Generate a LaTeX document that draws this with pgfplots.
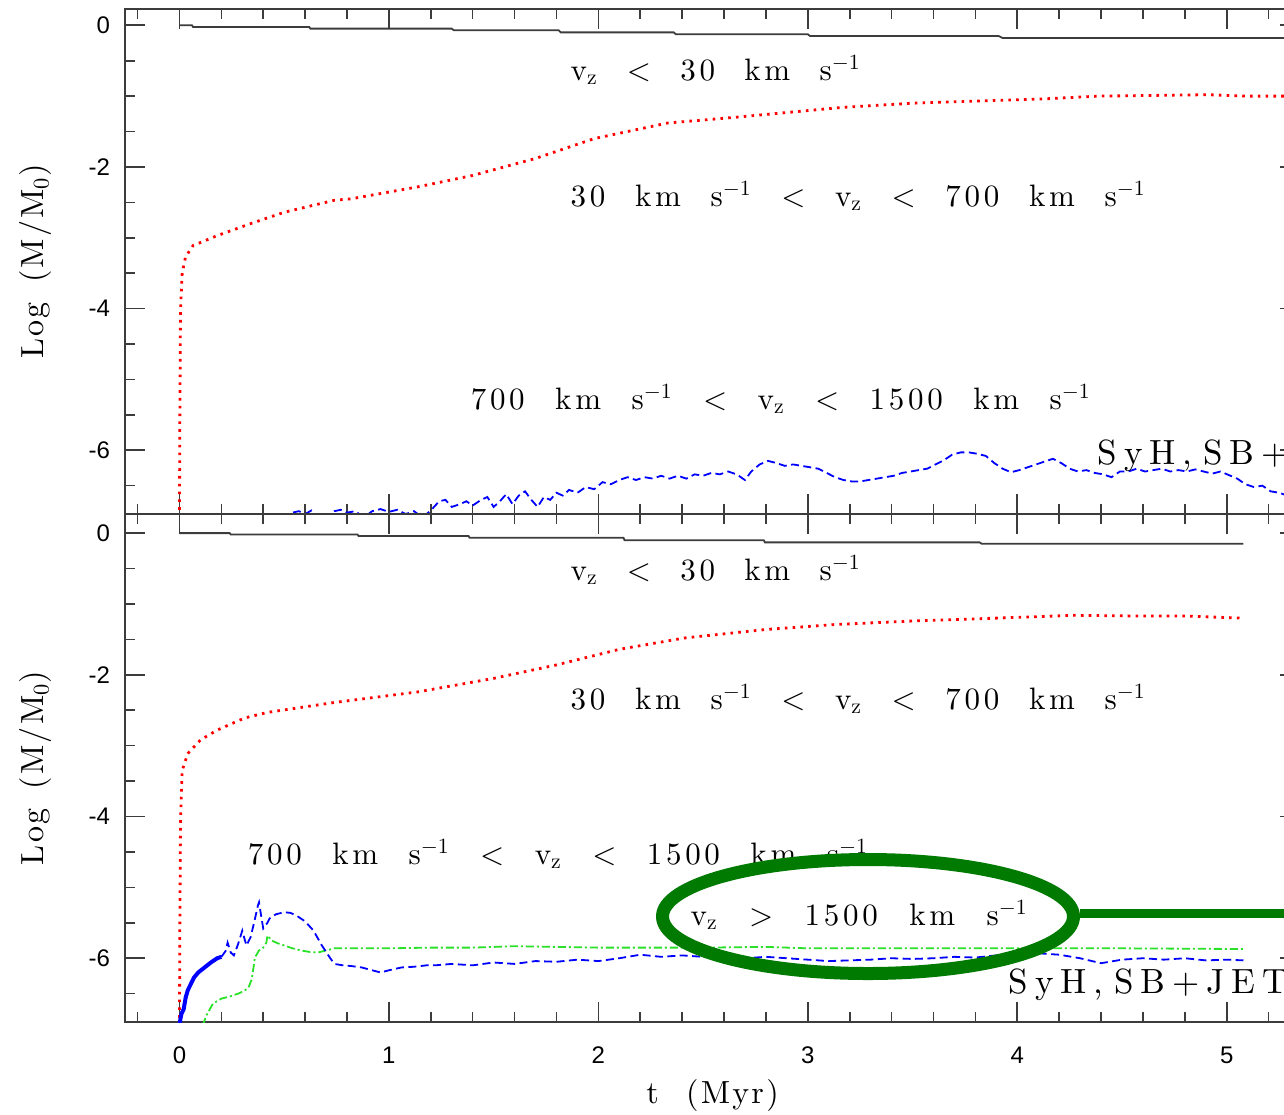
\documentclass[border=0pt]{standalone}
\usepackage{fontspec}
\usepackage{pgfplots}
\pgfplotsset{compat=1.18}
\newfontfamily\ticksf{Liberation Sans}
\newfontfamily\lmsp{lmroman10-regular.otf}[LetterSpace=12]
\newfontfamily\lmspB{lmroman10-regular.otf}[LetterSpace=20]
\newfontfamily\lmax{lmroman10-regular.otf}[LetterSpace=7]
\definecolor{ann}{RGB}{0,122,0}
\definecolor{lgreen}{RGB}{40,225,40}
\definecolor{axc}{RGB}{60,60,60}
\newcommand\lab{\lmsp\fontsize{15.5}{18}\selectfont}
\newcommand\labB{\lmspB\fontsize{17.5}{20}\selectfont}
\newcommand\axl{\lmax\fontsize{16}{18}\selectfont}
\newcommand\vz{v\textsubscript{z}}
\newcommand\inv{\textsuperscript{$-$1}}
\pgfplotsset{
  panel/.style={
    scale only axis, width=587.5pt, xmin=-0.26, xmax=5.35, ymin=-6.9,
    axis line style={axc, line width=0.9pt},
    every tick/.style={axc, line width=0.8pt},
    major tick length=10pt, minor tick length=5pt,
    xtick={0,1,2,3,4,5},
    minor xtick={-0.2,0.2,0.4,0.6,0.8,1.2,1.4,1.6,1.8,2.2,2.4,2.6,2.8,3.2,3.4,3.6,3.8,4.2,4.4,4.6,4.8,5.2},
    ytick={-6,-4,-2,0}, yticklabels={-6,-4,-2,0},
    minor ytick={-6.5,-5.5,-5,-4.5,-3.5,-3,-2.5,-1.5,-1,-0.5},
    yticklabel style={font=\ticksf\fontsize{12}{14}\selectfont, xshift=-4pt},
    ylabel={Log\hspace{0.2em} (M/M\textsubscript{0})},
    ylabel style={at={(axis description cs:-0.0762,0.5)}, anchor=center, font=\axl},
    clip=true,
  },
  blk/.style={axc, line width=0.9pt},
  rd/.style={red, line width=1.4pt, dash pattern=on 1.3pt off 2.6pt},
  bl/.style={blue, line width=0.9pt, dash pattern=on 4pt off 2.2pt},
  gr/.style={lgreen, line width=0.9pt, dash pattern=on 4pt off 1.5pt on 1pt off 1.5pt},
}
\begin{document}
\begin{tikzpicture}
%================ TOP PANEL =================
\begin{axis}[panel, at={(62.5pt,-4.5pt)}, anchor=north west, height=252.5pt, ymax=0.23,
  xticklabels={}]
\addplot[blk] coordinates {(0,0) (0.06,0) (0.065,-0.024) (0.62,-0.024) (0.625,-0.047) (1.30,-0.047) (1.31,-0.07) (1.81,-0.07) (1.82,-0.10) (2.36,-0.10) (2.37,-0.127) (3.0,-0.127) (3.01,-0.15) (3.91,-0.15) (3.93,-0.18) (5.35,-0.18)};
\addplot[rd] coordinates {(0,-6.95) (0.002,-5.5) (0.005,-4.02) (0.013,-3.5) (0.029,-3.27) (0.065,-3.11) (0.18,-2.97) (0.34,-2.80) (0.5,-2.64) (0.74,-2.47) (0.82,-2.45) (1.14,-2.28) (1.4,-2.12) (1.7,-1.88) (1.98,-1.6) (2.33,-1.38) (2.65,-1.30) (3.16,-1.16) (3.5,-1.10) (3.8,-1.07) (4.12,-1.04) (4.39,-1.00) (4.91,-0.98) (5.10,-1.00) (5.35,-1.0)};
\addplot[bl] coordinates {(0.50,-7.0) (0.54,-6.88) (0.57,-6.86) (0.60,-6.90) (0.63,-6.85) (0.66,-6.95) (0.70,-6.98) (0.74,-6.86) (0.77,-6.84) (0.80,-6.88) (0.84,-6.86) (0.88,-6.95) (0.92,-6.86) (0.96,-6.83) (1.00,-6.87) (1.04,-6.84) (1.08,-6.90) (1.12,-6.86) (1.16,-6.95) (1.20,-6.85) (1.24,-6.72) (1.27,-6.70) (1.30,-6.80) (1.34,-6.76) (1.37,-6.72) (1.40,-6.78) (1.44,-6.70) (1.47,-6.66) (1.50,-6.80) (1.53,-6.72) (1.56,-6.62) (1.59,-6.76) (1.62,-6.64) (1.65,-6.58) (1.68,-6.70) (1.71,-6.80) (1.74,-6.66) (1.77,-6.70) (1.80,-6.60) (1.83,-6.64) (1.86,-6.56) (1.90,-6.60) (1.94,-6.52) (1.98,-6.55) (2.02,-6.45) (2.06,-6.48) (2.10,-6.42) (2.14,-6.38) (2.18,-6.42) (2.22,-6.38) (2.26,-6.40) (2.30,-6.36) (2.34,-6.40) (2.38,-6.36) (2.42,-6.40) (2.46,-6.34) (2.50,-6.36) (2.54,-6.32) (2.58,-6.34) (2.62,-6.30) (2.66,-6.34) (2.70,-6.42) (2.73,-6.30) (2.77,-6.20) (2.81,-6.15) (2.85,-6.18) (2.89,-6.22) (2.93,-6.20) (2.97,-6.22) (3.01,-6.24) (3.05,-6.26) (3.09,-6.32) (3.13,-6.38) (3.17,-6.42) (3.21,-6.44) (3.25,-6.44) (3.29,-6.42) (3.33,-6.40) (3.37,-6.38) (3.41,-6.36) (3.45,-6.32) (3.49,-6.30) (3.53,-6.28) (3.57,-6.26) (3.61,-6.20) (3.65,-6.14) (3.69,-6.06) (3.73,-6.03) (3.77,-6.03) (3.81,-6.05) (3.85,-6.08) (3.89,-6.18) (3.93,-6.26) (3.97,-6.31) (4.01,-6.28) (4.05,-6.24) (4.09,-6.20) (4.13,-6.16) (4.17,-6.12) (4.21,-6.18) (4.25,-6.26) (4.29,-6.30) (4.33,-6.28) (4.37,-6.32) (4.41,-6.34) (4.45,-6.38) (4.49,-6.30) (4.53,-6.30) (4.57,-6.26) (4.61,-6.30) (4.65,-6.28) (4.69,-6.26) (4.73,-6.30) (4.77,-6.28) (4.81,-6.30) (4.85,-6.27) (4.89,-6.30) (4.93,-6.33) (4.97,-6.30) (5.01,-6.35) (5.05,-6.40) (5.09,-6.48) (5.13,-6.52) (5.17,-6.50) (5.21,-6.58) (5.25,-6.60) (5.29,-6.64) (5.33,-6.66)};
\node[anchor=base west, inner sep=0, font=\lab] at (axis cs:1.866,-0.777) {\makebox[145pt][s]{\vz\ < 30 km s\inv}};
\node[anchor=base west, inner sep=0, font=\lab] at (axis cs:1.866,-2.555) {\makebox[287.5pt][s]{30 km s\inv\ < \vz\ < 700 km s\inv}};
\node[anchor=base west, inner sep=0, font=\lab] at (axis cs:1.389,-5.421) {\makebox[310pt][s]{700 km s\inv\ < \vz\ < 1500 km s\inv}};
\node[anchor=base west, inner sep=0, font=\labB] at (axis cs:4.382,-6.198) {SyH,\hspace{0.3em}SB+JET};
\end{axis}
%================ BOTTOM PANEL =================
\begin{axis}[panel, at={(62.5pt,-257pt)}, anchor=north west, height=254pt, ymax=0.27,
  xticklabels={0,1,2,3,4,5},
  xticklabel style={font=\ticksf\fontsize{12}{14}\selectfont, yshift=-9pt},
  xlabel={t\hspace{0.45em} (Myr)},
  xlabel style={at={(axis description cs:0.5,-0.144)}, anchor=center, font=\axl}]
\addplot[blk] coordinates {(0,0) (0.24,0) (0.245,-0.02) (0.85,-0.02) (0.855,-0.04) (1.38,-0.04) (1.385,-0.065) (2.12,-0.065) (2.125,-0.10) (2.79,-0.10) (2.795,-0.13) (3.82,-0.13) (3.83,-0.15) (5.08,-0.15)};
\addplot[rd] coordinates {(0,-6.95) (0.002,-5.5) (0.005,-4.05) (0.013,-3.35) (0.04,-3.11) (0.10,-2.92) (0.18,-2.78) (0.31,-2.61) (0.42,-2.53) (0.74,-2.39) (1.14,-2.24) (1.5,-2.05) (1.8,-1.86) (2.1,-1.64) (2.41,-1.48) (2.8,-1.36) (3.13,-1.29) (3.5,-1.24) (3.8,-1.21) (4.27,-1.16) (4.59,-1.17) (4.8,-1.17) (5.08,-1.2)};
\addplot[gr] coordinates {(0.11,-6.95) (0.13,-6.80) (0.16,-6.64) (0.20,-6.57) (0.24,-6.54) (0.28,-6.50) (0.31,-6.46) (0.33,-6.41) (0.345,-6.30) (0.355,-6.10) (0.36,-5.99) (0.38,-5.89) (0.40,-5.85) (0.415,-5.78) (0.42,-5.68) (0.44,-5.75) (0.47,-5.79) (0.50,-5.82) (0.54,-5.86) (0.58,-5.89) (0.62,-5.91) (0.66,-5.92) (0.70,-5.89) (0.74,-5.86) (0.80,-5.86) (0.90,-5.86) (1.00,-5.86) (1.20,-5.85) (1.40,-5.85) (1.60,-5.83) (1.80,-5.84) (2.00,-5.85) (2.20,-5.85) (2.50,-5.85) (2.80,-5.84) (3.00,-5.86) (3.50,-5.86) (4.00,-5.86) (4.50,-5.86) (5.08,-5.87)};
\addplot[blue, line width=2pt] coordinates {(0.000,-6.95) (0.005,-6.85) (0.01,-6.78) (0.02,-6.72) (0.03,-6.55) (0.04,-6.45) (0.055,-6.36) (0.07,-6.27) (0.09,-6.20) (0.12,-6.13) (0.15,-6.06) (0.18,-6.00) (0.20,-5.98)};
\addplot[bl] coordinates {(0.20,-5.98) (0.22,-5.90) (0.23,-5.78) (0.245,-5.92) (0.26,-5.96) (0.28,-5.80) (0.30,-5.61) (0.31,-5.72) (0.32,-5.82) (0.34,-5.70) (0.36,-5.45) (0.375,-5.25) (0.38,-5.21) (0.39,-5.40) (0.40,-5.58) (0.42,-5.50) (0.43,-5.44) (0.46,-5.38) (0.50,-5.35) (0.53,-5.36) (0.56,-5.40) (0.60,-5.48) (0.64,-5.61) (0.68,-5.82) (0.72,-6.00) (0.74,-6.08) (0.78,-6.10) (0.82,-6.11) (0.87,-6.13) (0.92,-6.17) (0.96,-6.20) (1.00,-6.17) (1.06,-6.13) (1.12,-6.12) (1.18,-6.10) (1.22,-6.10) (1.30,-6.08) (1.40,-6.10) (1.50,-6.06) (1.60,-6.08) (1.70,-6.04) (1.80,-6.05) (1.90,-6.02) (2.00,-6.04) (2.10,-6.00) (2.20,-5.95) (2.30,-5.98) (2.40,-5.96) (2.50,-5.98) (2.60,-5.98) (2.70,-6.00) (2.80,-5.98) (2.90,-6.00) (3.00,-6.02) (3.10,-6.04) (3.20,-6.03) (3.30,-6.02) (3.40,-6.00) (3.50,-6.01) (3.60,-6.00) (3.70,-5.98) (3.80,-5.99) (3.90,-5.96) (4.00,-5.95) (4.10,-5.93) (4.20,-5.95) (4.30,-6.00) (4.40,-6.07) (4.50,-6.02) (4.60,-6.00) (4.70,-6.02) (4.80,-6.00) (4.90,-6.03) (5.00,-6.02) (5.08,-6.03)};
\node[anchor=base west, inner sep=0, font=\lab] at (axis cs:1.866,-0.664) {\makebox[145pt][s]{\vz\ < 30 km s\inv}};
\node[anchor=base west, inner sep=0, font=\lab] at (axis cs:1.866,-2.486) {\makebox[287.5pt][s]{30 km s\inv\ < \vz\ < 700 km s\inv}};
\node[anchor=base west, inner sep=0, font=\lab] at (axis cs:0.325,-4.675) {\makebox[310pt][s]{700 km s\inv\ < \vz\ < 1500 km s\inv}};
\node[anchor=base west, inner sep=0, font=\lab] at (axis cs:2.439,-5.537) {\makebox[168.5pt][s]{\vz\ > 1500 km s\inv}};
\node[anchor=base west, inner sep=0, font=\labB] at (axis cs:3.957,-6.497) {SyH,\hspace{0.3em}SB+JET};
\end{axis}
% annotation ellipse and connector
\draw[ann, line width=6.5pt] (434pt,-458.25pt) ellipse [x radius=102.75pt, y radius=28.5pt];
\draw[ann, line width=4.5pt] (540pt,-456.5pt) -- (660pt,-456.5pt);
\pgfresetboundingbox
\useasboundingbox (0pt,0pt) rectangle (642pt,-557pt);
\end{tikzpicture}
\end{document}
